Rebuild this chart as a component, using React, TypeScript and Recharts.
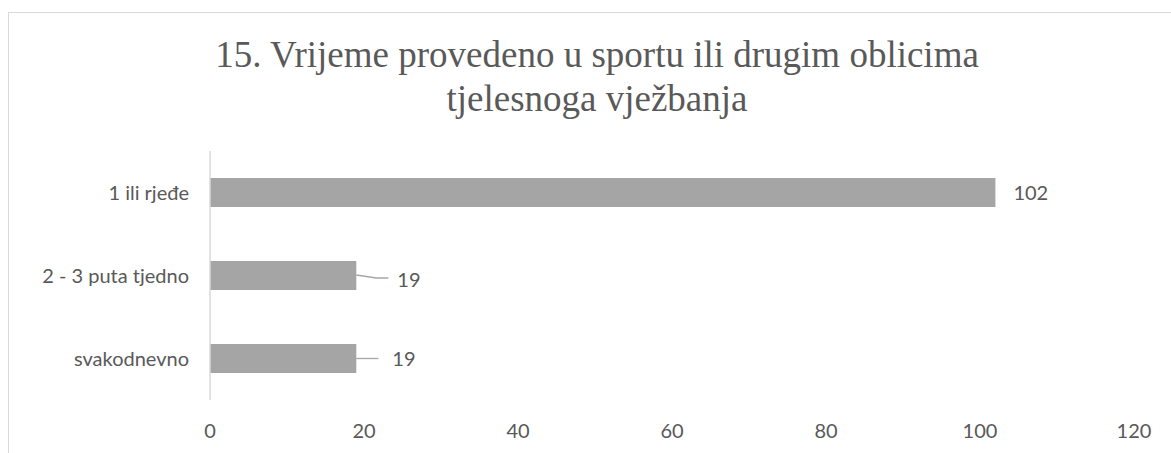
import { BarChart, Bar, XAxis, YAxis, LabelList } from 'recharts';

const categories = ['1 ili rjeđe', '2 - 3 puta tjedno', 'svakodnevno'];
const counts = [102, 19, 19];
const xTicks = [0, 20, 40, 60, 80, 100, 120];

const data = categories.map((name, i) => ({ name, value: counts[i] }));

const TEXT = '#595959';
const LABEL_FONT = 'Lato, "Open Sans", sans-serif';

// Excel-style data labels; the short bars get a small leader line
const DataLabel = (props: any) => {
  const { x, y, width, height, value, index } = props;
  const end = x + width;
  const cy = y + height / 2;
  if (index === 0) {
    return (
      <text x={end + 18} y={cy} dy="0.35em" fill={TEXT} fontSize={20} fontFamily={LABEL_FONT}>
        {value}
      </text>
    );
  }
  if (index === 1) {
    return (
      <g>
        <path d={`M${end},${cy - 0.5} L${end + 20},${cy + 2.5} L${end + 32},${cy + 2.5}`} stroke="#a6a6a6" strokeWidth={1.3} fill="none" />
        <text x={end + 41} y={cy + 4.5} dy="0.35em" fill={TEXT} fontSize={20} fontFamily={LABEL_FONT}>
          {value}
        </text>
      </g>
    );
  }
  return (
    <g>
      <path d={`M${end},${cy} L${end + 22},${cy}`} stroke="#a6a6a6" strokeWidth={1.3} fill="none" />
      <text x={end + 36} y={cy} dy="0.35em" fill={TEXT} fontSize={20} fontFamily={LABEL_FONT}>
        {value}
      </text>
    </g>
  );
};

export default function App() {
  return (
    <div style={{ position: 'absolute', left: 0, top: 0, width: 1171, height: 453, background: '#fff', overflow: 'hidden' }}>
      <div
        style={{
          position: 'absolute',
          left: 8,
          top: 12,
          width: 1163,
          height: 441,
          borderTop: '1px solid #d9d9d9',
          borderLeft: '1px solid #d9d9d9',
          boxSizing: 'border-box',
        }}
      />
      <div
        style={{
          position: 'absolute',
          left: 97,
          width: 1000,
          top: 33,
          textAlign: 'center',
          fontFamily: '"Liberation Serif", "Times New Roman", serif',
          fontSize: 37,
          lineHeight: '44px',
          color: TEXT,
        }}
      >
        15. Vrijeme provedeno u sportu ili drugim oblicima
        <br />
        tjelesnoga vježbanja
      </div>
      <div style={{ position: 'absolute', left: 0, top: 0 }}>
        <BarChart
          width={1171}
          height={453}
          data={data}
          layout="vertical"
          margin={{ top: 151, right: 37, left: 0, bottom: 23 }}
          barSize={29}
        >
          <XAxis
            type="number"
            domain={[0, 120]}
            ticks={xTicks}
            axisLine={false}
            tickLine={false}
            tickMargin={18}
            height={30}
            tick={{ fill: TEXT, fontSize: 20, fontFamily: LABEL_FONT }}
          />
          <YAxis
            type="category"
            dataKey="name"
            width={210}
            axisLine={{ stroke: '#d9d9d9', strokeWidth: 1.5 }}
            tickLine={false}
            tickSize={0}
            tickMargin={21}
            tick={{ fill: TEXT, fontSize: 20, fontFamily: LABEL_FONT }}
          />
          <Bar dataKey="value" fill="#a5a5a5" isAnimationActive={false}>
            <LabelList dataKey="value" content={<DataLabel />} />
          </Bar>
        </BarChart>
      </div>
    </div>
  );
}
